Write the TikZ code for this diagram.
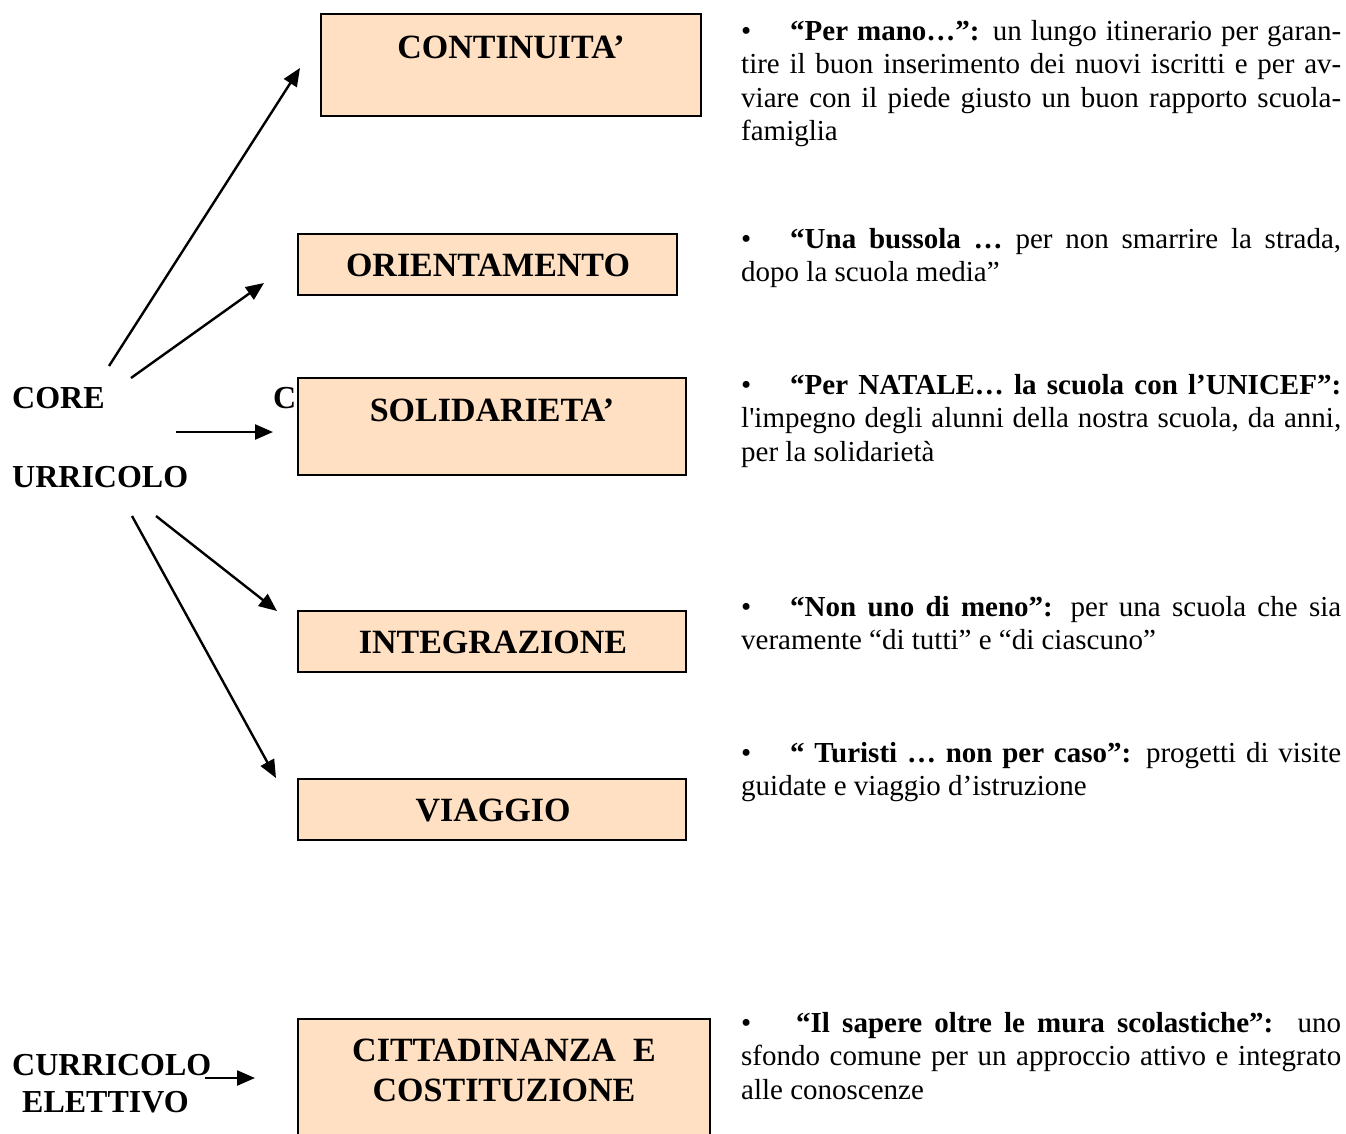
\documentclass[tikz,border=0pt]{standalone}
\usepackage{fontspec}
\setmainfont{Liberation Serif}
\usetikzlibrary{arrows.meta}
\definecolor{peach}{RGB}{255,224,194}

\tikzset{
  tbox/.style={draw=black, line width=2pt, fill=peach, inner sep=0pt},
  ttitle/.style={font=\fontsize{34}{38}\selectfont\bfseries, inner sep=0pt, anchor=center},
  lbl/.style={font=\fontsize{32}{36}\selectfont\bfseries, inner sep=0pt, anchor=base west},
  desc/.style={font=\fontsize{29}{33.5}\selectfont, text width=600pt, align=justify,
               inner sep=0pt, anchor=base west},
  link/.style={line width=2.4pt, -{Triangle[length=18pt,width=15pt]}},
}
\newcommand{\itembul}{\makebox[49pt][l]{\textbullet}}

\begin{document}
\begin{tikzpicture}[x=1pt, y=-1pt]
  \clip (0,0) rectangle (1346,1133);
  \fill[white] (0,0) rectangle (1346,1133);

  % boxes
  \draw[tbox] (321,14) rectangle (701,116);
  \node[ttitle] (continuita) at (511,47) {CONTINUITA’};
  \draw[tbox] (298,234) rectangle (677,295);
  \node[ttitle] (orient) at (488,265) {ORIENTAMENTO};
  \draw[tbox] (298,378) rectangle (686,475);
  \node[ttitle] (solid) at (492,410) {SOLIDARIETA’};
  \draw[tbox] (298,611) rectangle (686,672);
  \node[ttitle] (integr) at (493,642) {INTEGRAZIONE};
  \draw[tbox] (298,779) rectangle (686,840);
  \node[ttitle] (viaggio) at (493,810) {VIAGGIO};
  \draw[tbox] (298,1019) rectangle (710,1145);
  \node[ttitle, align=center, font=\fontsize{34}{40}\selectfont\bfseries] (citt) at (504,1070)
    {CITTADINANZA\ \ E\\COSTITUZIONE};

  % left labels
  \node[lbl] (core) at (12,408) {CORE};
  \node[lbl] (cee) at (273,408) {C};
  \node[lbl] (urric) at (12,487) {URRICOLO};
  \node[lbl] (curric) at (12,1075) {CURRICOLO};
  \node[lbl] (elett) at (22,1112) {ELETTIVO};

  % arrow end points
  \coordinate (s1) at (109,366);  \coordinate (e1) at (300,68);
  \coordinate (s2) at (131,378);  \coordinate (e2) at (264,283);
  \coordinate (s3) at (176,432);  \coordinate (e3) at (273,432);
  \coordinate (s4) at (156,516);  \coordinate (e4) at (277,611);
  \coordinate (s5) at (132,516);  \coordinate (e5) at (276,778);
  \coordinate (s6) at (205,1078); \coordinate (e6) at (255,1078);

  \draw[link] (s1) -- (e1);
  \draw[link] (s2) -- (e2);
  \draw[link] (s3) -- (e3);
  \draw[link] (s4) -- (e4);
  \draw[link] (s5) -- (e5);
  \draw[link] (s6) -- (e6);

  % descriptions
  \node[desc] (d1) at (741,40) {\itembul\textbf{“Per mano…”:} un lungo itinerario per garan-\linebreak
    tire il buon inserimento dei nuovi iscritti e per av-\linebreak
    viare con il piede giusto un buon rapporto scuola-\linebreak
    famiglia};
  \node[desc] (d2) at (741,248) {\itembul\textbf{“Una bussola …} per non smarrire la strada,\linebreak
    dopo la scuola media”};
  \node[desc] (d3) at (741,394) {\itembul\textbf{“Per NATALE… la scuola con l’UNICEF”:}\linebreak
    l\textquotesingle impegno degli alunni della nostra scuola, da anni,\linebreak
    per la solidarietà};
  \node[desc] (d4) at (741,616) {\itembul\textbf{“Non uno di meno”:} per una scuola che sia\linebreak
    veramente “di tutti” e “di ciascuno”};
  \node[desc] (d5) at (741,762) {\itembul\textbf{“ Turisti … non per caso”:} progetti di visite\linebreak
    guidate e viaggio d’istruzione};
  \node[desc] (d6) at (741,1032) {\itembul\hspace{6pt}\textbf{“Il sapere oltre le mura scolastiche”:}\ \ uno\linebreak
    sfondo comune per un approccio attivo e integrato\linebreak
    alle conoscenze};
\end{tikzpicture}
\end{document}
